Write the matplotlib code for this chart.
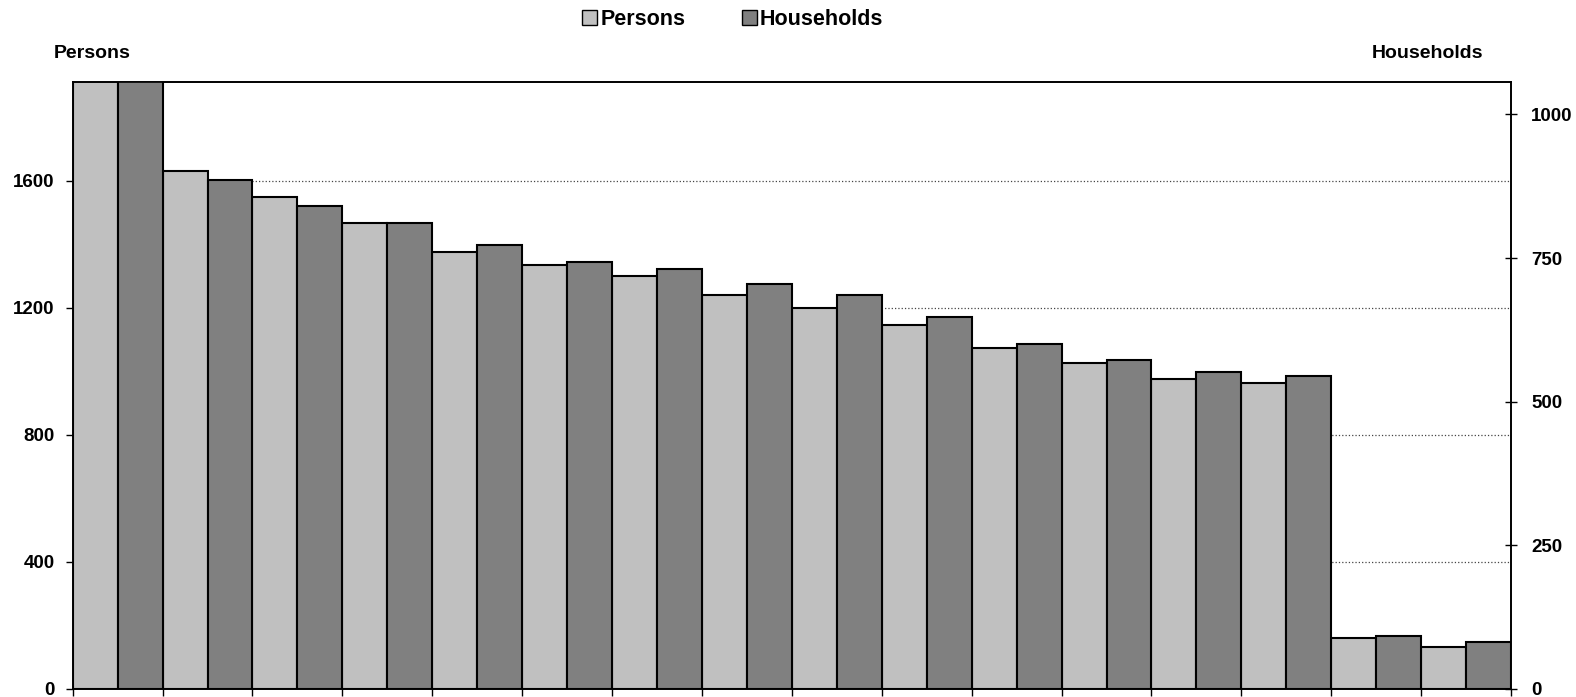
import numpy as np
import matplotlib.pyplot as plt
from matplotlib.patches import Patch

plt.rcParams['font.family'] = ['Liberation Sans', 'DejaVu Sans']
plt.rcParams['font.weight'] = 'bold'

# values (first group runs off the top of the chart)
persons = [1960, 1632, 1549, 1467, 1375, 1334, 1302, 1242, 1201, 1147,
           1074, 1027, 976, 963, 162, 133]
households = [1080, 886, 841, 811, 773, 743, 731, 705, 685, 647,
              601, 573, 552, 544, 93, 82]
persons_ticks = [0, 400, 800, 1200, 1600]
households_ticks = [0, 250, 500, 750, 1000]

c_persons = '#C0C0C0'
c_households = '#808080'

fig = plt.figure(figsize=(15.76, 6.97), dpi=100)
ax = fig.add_axes([0.0461, 0.0115, 0.9127, 0.8705])
ax2 = ax.twinx()

x = np.arange(len(persons))
ax.bar(x + 0.25, persons, width=0.5, color=c_persons, edgecolor='black', linewidth=1.5)
ax2.bar(x + 0.75, households, width=0.5, color=c_households, edgecolor='black', linewidth=1.5)

ax.set_xlim(0, len(persons))
ax.set_ylim(0, 1911)
ax2.set_ylim(0, 1056)

ax.set_xticks(np.arange(len(persons) + 1))
ax.set_xticklabels([])
ax.set_yticks(persons_ticks)
ax2.set_yticks(households_ticks)

ax.set_axisbelow(True)
ax.yaxis.grid(True, linestyle=':', color='#444444', linewidth=0.9)

ax.tick_params(axis='x', direction='out', length=5, width=1)
ax.tick_params(axis='y', direction='out', length=5, width=1, labelsize=13.5, pad=8)
ax2.tick_params(axis='y', direction='inout', length=9, width=1, labelsize=13.5, pad=10)

for a in (ax, ax2):
    for s in a.spines.values():
        s.set_linewidth(1.2)
        s.set_color('black')

fig.text(0.034, 0.923, 'Persons', fontsize=14, fontweight='bold', va='center', ha='left')
fig.text(0.906, 0.923, 'Households', fontsize=14, fontweight='bold', va='center', ha='center')

handles = [Patch(facecolor=c_persons, edgecolor='black', linewidth=1),
           Patch(facecolor=c_households, edgecolor='black', linewidth=1)]
fig.legend(handles, ['Persons', 'Households'], loc='center', bbox_to_anchor=(0.465, 0.972),
           ncol=2, frameon=False, fontsize=15.5, handlelength=0.7, handleheight=0.7,
           handletextpad=0.15, columnspacing=2.6, prop={'weight': 'bold', 'size': 15.5})

plt.savefig('out.png', dpi=100)
